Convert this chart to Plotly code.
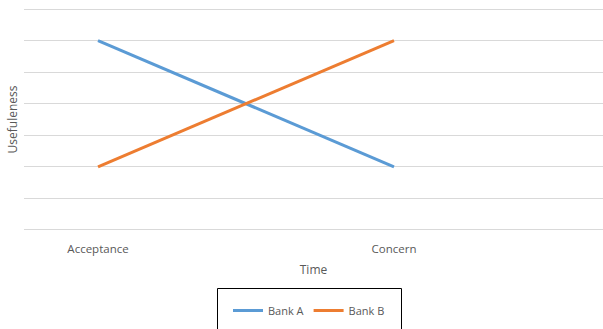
import plotly.graph_objects as go

categories = ["Acceptance", "", "Concern", ""]
cat_pos = [0, 1, 2, 3]
bank_a = [6, 2]
bank_b = [2, 6]
series_x = [0, 2]

W, H = 603, 329
ml, mr, mt, mb = 24, 0, 6, 96
pw = W - ml - mr
ph = H - mt - mb

def px_x(p):
    return (p - ml) / pw

def px_y(p):
    return (H - mb - p) / ph

fig = go.Figure()
fig.add_trace(go.Scatter(x=series_x, y=bank_a, mode="lines", name="Bank A",
                         line=dict(color="#5B9BD5", width=3)))
fig.add_trace(go.Scatter(x=series_x, y=bank_b, mode="lines", name="Bank B",
                         line=dict(color="#ED7D31", width=3)))

font = "Open Sans, Liberation Sans, sans-serif"
fig.update_layout(
    width=W, height=H,
    margin=dict(l=ml, r=mr, t=mt, b=mb),
    plot_bgcolor="white", paper_bgcolor="white",
    font=dict(family=font, size=11, color="#595959"),
    xaxis=dict(range=[-0.5, -0.5 + pw / 148.0], tickvals=cat_pos[:3:2],
               ticktext=[categories[0], categories[2]],
               showgrid=False, zeroline=False, showline=False,
               ticks="outside", ticklen=5, tickcolor="rgba(0,0,0,0)",
               tickfont=dict(size=11.5, color="#595959"),
               title=dict(text="Time", font=dict(size=12, color="#595959"), standoff=10)),
    yaxis=dict(range=[-0.1, 7.1], tickvals=[0, 1, 2, 3, 4, 5, 6, 7], showticklabels=False,
               showgrid=True, gridcolor="#D9D9D9", gridwidth=1, zeroline=False, showline=False,
               title=dict(text="Usefuleness", font=dict(size=12, color="#595959"), standoff=2)),
    legend=dict(orientation="h", x=px_x(309), xanchor="center", y=px_y(296), yanchor="top",
                bgcolor="rgba(0,0,0,0)", font=dict(size=11, color="#595959"),
                itemwidth=30, tracegroupgap=0),
    showlegend=True,
)
fig.add_shape(type="rect", xref="paper", yref="paper",
              x0=px_x(217.5), x1=px_x(401.5), y0=px_y(340), y1=px_y(288.5),
              line=dict(color="black", width=1), fillcolor="rgba(0,0,0,0)", layer="above")
fig.write_html("out.html")
